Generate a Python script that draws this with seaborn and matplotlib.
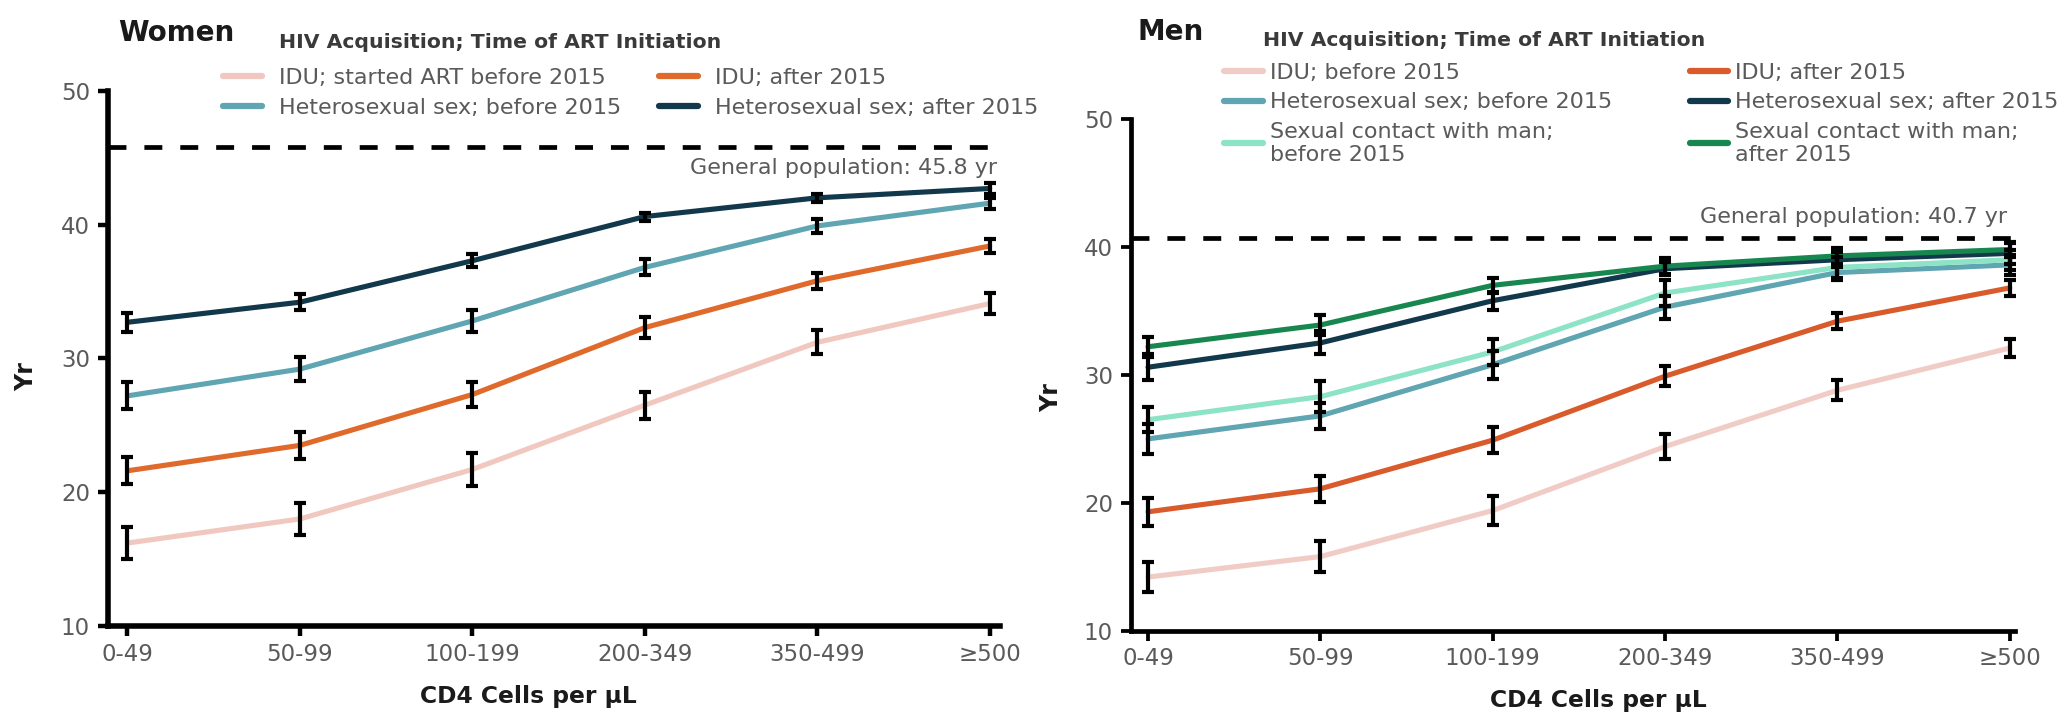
import numpy as np
import pandas as pd
import seaborn as sns
import matplotlib
matplotlib.use("Agg")
import matplotlib.pyplot as plt
from matplotlib.lines import Line2D

# ---- data -------------------------------------------------------------
cd4_bins = ["0-49", "50-99", "100-199", "200-349", "350-499", "\u2265500"]
y_ticks = [10, 20, 30, 40, 50]

# Women: remaining life expectancy (yr) and half-width of the error bars
women_idu_before = [16.2, 18.0, 21.7, 26.5, 31.2, 34.1]
women_idu_after = [21.6, 23.5, 27.3, 32.3, 35.8, 38.4]
women_het_before = [27.2, 29.2, 32.8, 36.8, 39.9, 41.6]
women_het_after = [32.7, 34.2, 37.3, 40.6, 42.0, 42.7]
women_idu_before_err = [1.2, 1.2, 1.2, 1.0, 0.9, 0.8]
women_idu_after_err = [1.0, 1.0, 0.9, 0.8, 0.6, 0.5]
women_het_before_err = [1.0, 0.9, 0.8, 0.6, 0.5, 0.4]
women_het_after_err = [0.7, 0.6, 0.5, 0.3, 0.3, 0.4]
women_general = 45.8

# Men
men_idu_before = [14.2, 15.8, 19.4, 24.4, 28.8, 32.1]
men_idu_after = [19.3, 21.1, 24.9, 29.9, 34.2, 36.8]
men_het_before = [25.0, 26.8, 30.8, 35.3, 38.0, 38.6]
men_het_after = [30.6, 32.5, 35.8, 38.3, 39.0, 39.5]
men_msm_before = [26.5, 28.3, 31.8, 36.4, 38.4, 39.0]
men_msm_after = [32.2, 33.9, 37.0, 38.5, 39.3, 39.8]
men_idu_before_err = [1.2, 1.2, 1.1, 1.0, 0.8, 0.7]
men_idu_after_err = [1.1, 1.0, 1.0, 0.8, 0.6, 0.6]
men_het_before_err = [1.2, 1.0, 1.1, 0.9, 0.6, 0.8]
men_het_after_err = [1.0, 0.9, 0.7, 0.5, 0.6, 0.8]
men_msm_before_err = [1.0, 1.2, 1.0, 1.0, 0.8, 0.8]
men_msm_after_err = [0.8, 0.8, 0.6, 0.6, 0.6, 0.6]
men_general = 40.7

women_labels = ["IDU; started ART before 2015", "Heterosexual sex; before 2015",
                "IDU; after 2015", "Heterosexual sex; after 2015"]
men_labels = ["IDU; before 2015", "Heterosexual sex; before 2015",
              "Sexual contact with man;\nbefore 2015", "IDU; after 2015",
              "Heterosexual sex; after 2015", "Sexual contact with man;\nafter 2015"]

women_colors = ["#f1c8c0", "#5fa5b2", "#e06a2c", "#12394b"]
men_colors = ["#f1ccc6", "#5fa5b2", "#8ce3c6", "#d95a2b", "#12394b", "#18874f"]

# ---- styling ----------------------------------------------------------
sns.set_theme(style="white")
plt.rcParams["font.family"] = ["DejaVu Sans"]
GREY = "#5a5a5a"
DARK = "#1a1a1a"

W, H = 2059, 716
fig = plt.figure(figsize=(W / 100, H / 100), dpi=100)


def px_axes(left, right, top, bottom):
    return fig.add_axes([left / W, 1 - bottom / H, (right - left) / W, (bottom - top) / H])


def draw_panel(ax, values, errors, labels, colors, general, xlim, spine_w):
    pos = np.arange(len(cd4_bins))
    frames = []
    for lab, vals in zip(labels, values):
        frames.append(pd.DataFrame({"pos": pos, "yr": vals, "group": lab}))
    df = pd.concat(frames, ignore_index=True)
    sns.lineplot(data=df, x="pos", y="yr", hue="group", hue_order=labels,
                 palette=dict(zip(labels, colors)), linewidth=3.7,
                 errorbar=None, legend=False, ax=ax, zorder=2)
    for vals, err in zip(values, errors):
        ax.errorbar(pos, vals, yerr=err, fmt="none", ecolor="black",
                    elinewidth=3.0, capsize=4.5, capthick=3.0, zorder=3)
    ax.axhline(general, color="black", lw=3.4, dashes=(3.8, 3.8), zorder=1)
    ax.set_xlim(*xlim)
    ax.set_ylim(10, 50)
    ax.set_xticks(pos)
    ax.set_xticklabels(cd4_bins)
    ax.set_yticks(y_ticks)
    ax.set_xlabel("")
    ax.set_ylabel("")
    for side in ("top", "right"):
        ax.spines[side].set_visible(False)
    for side in ("left", "bottom"):
        ax.spines[side].set_color("black")
        ax.spines[side].set_linewidth(spine_w)
    ax.tick_params(axis="both", which="both", direction="out", length=7,
                   width=spine_w * 0.8, color="black", labelsize=16.5,
                   labelcolor=GREY, left=True, bottom=True)
    ax.tick_params(axis="x", pad=5)
    ax.tick_params(axis="y", pad=6)
    ax.set_facecolor("white")
    ax.grid(False)


# ---- Women ------------------------------------------------------------
ax1 = px_axes(108, 1000, 90.8, 626)
draw_panel(ax1,
           [women_idu_before, women_het_before, women_idu_after, women_het_after],
           [women_idu_before_err, women_het_before_err, women_idu_after_err, women_het_after_err],
           women_labels, women_colors, women_general, (-0.113, 5.06), 4.0)
fig.text(997 / W, 1 - 168 / H, f"General population: {women_general} yr",
         ha="right", va="center", fontsize=16, color=GREY)

# ---- Men --------------------------------------------------------------
ax2 = px_axes(1131, 2015, 119, 630.8)
draw_panel(ax2,
           [men_idu_before, men_het_before, men_msm_before,
            men_idu_after, men_het_after, men_msm_after],
           [men_idu_before_err, men_het_before_err, men_msm_before_err,
            men_idu_after_err, men_het_after_err, men_msm_after_err],
           men_labels, men_colors, men_general, (-0.099, 5.03), 3.4)
fig.text(2007 / W, 1 - 217 / H, f"General population: {men_general} yr",
         ha="right", va="center", fontsize=16, color=GREY)

# ---- titles, axis labels ------------------------------------------------
fig.text(118 / W, 1 - 33 / H, "Women", ha="left", va="center",
         fontsize=20, fontweight="bold", color=DARK)
fig.text(1138 / W, 1 - 32 / H, "Men", ha="left", va="center",
         fontsize=20, fontweight="bold", color=DARK)
for x, txt_y in ((279, 42), (1263, 40)):
    fig.text(x / W, 1 - txt_y / H, "HIV Acquisition; Time of ART Initiation",
             ha="left", va="center", fontsize=14.7, fontweight="bold",
             color="#3a3a3a")
for x, y in ((26, 377), (1051, 398)):
    fig.text(x / W, 1 - y / H, "Yr", rotation=90, ha="center", va="center",
             fontsize=17, fontweight="bold", color=DARK)
for x, y in ((528, 697), (1598, 700)):
    fig.text(x / W, 1 - y / H, "CD4 Cells per \u00b5L", ha="center", va="center",
             fontsize=16.8, fontweight="bold", color=DARK)


# ---- legends ----------------------------------------------------------
def add_legend(labels, colors, x_left, y_top, colspace, textpad, spacing):
    handles = [Line2D([0], [0], color=c, lw=4.5) for c in colors]
    leg = fig.legend(handles, labels, loc="upper left",
                     bbox_to_anchor=(x_left / W, 1 - y_top / H),
                     bbox_transform=fig.transFigure, ncol=2, frameon=False,
                     fontsize=16, handlelength=1.75, handletextpad=textpad,
                     columnspacing=colspace, labelspacing=spacing,
                     borderpad=0, borderaxespad=0)
    for t in leg.get_texts():
        t.set_color(GREY)
        t.set_linespacing(1.2)
    return leg


add_legend(women_labels, women_colors, 223, 68, 1.7, 0.77, 0.45)
add_legend(men_labels, men_colors, 1224, 63, 3.5, 0.3, 0.42)

fig.savefig("out.png", dpi=100, facecolor="white")
